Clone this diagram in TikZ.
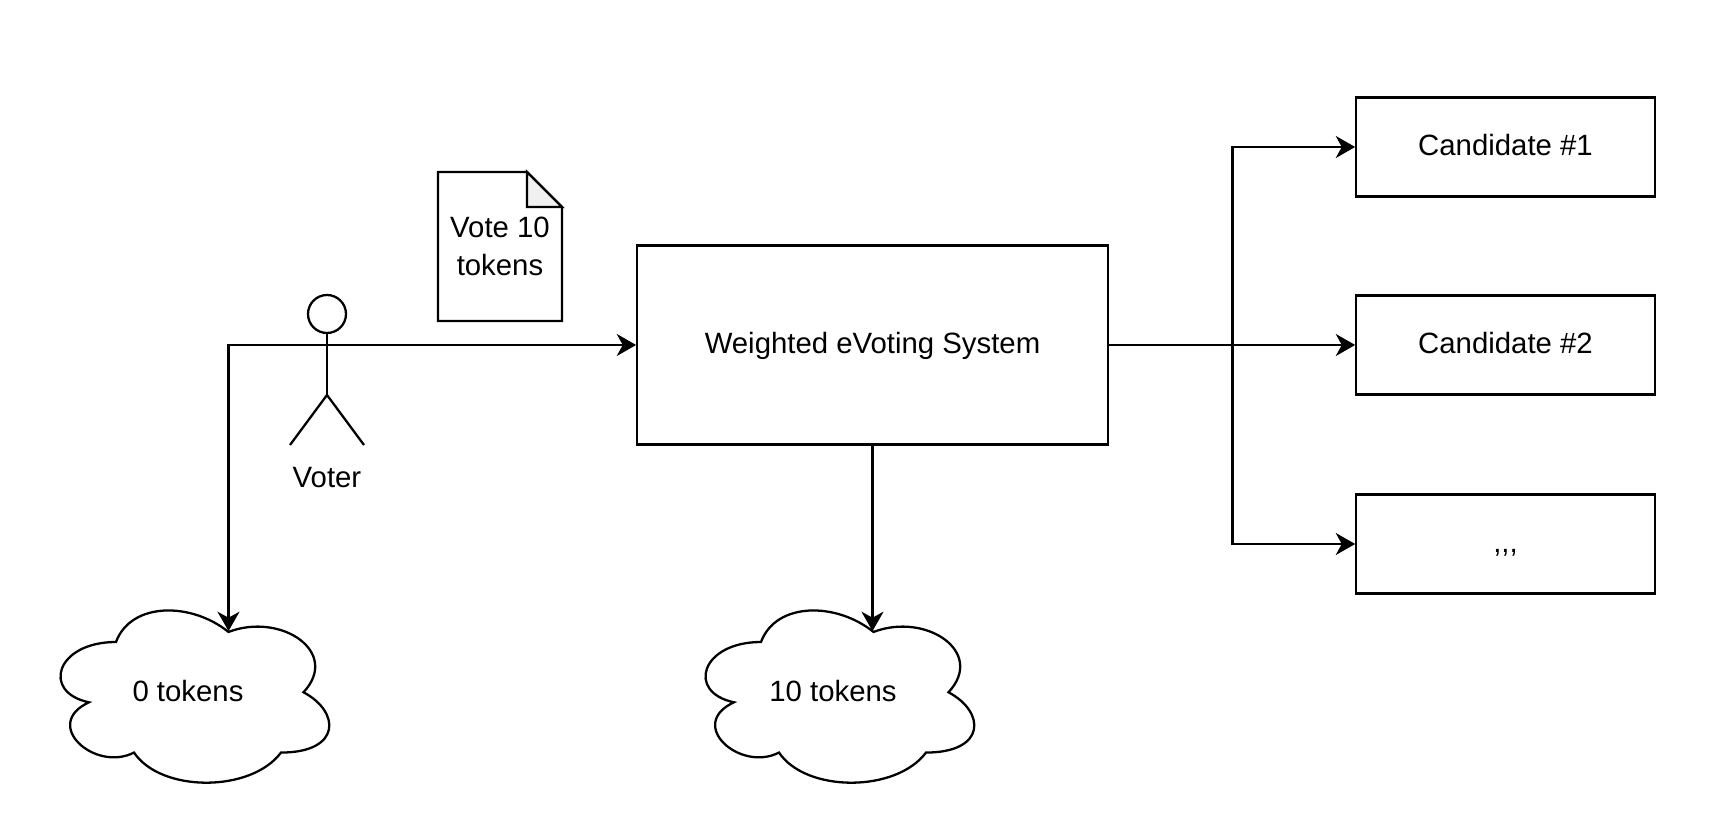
\documentclass[tikz,border=0pt]{standalone}
\usepackage{fontspec}
\setmainfont{Liberation Sans}
\usetikzlibrary{positioning, arrows.meta}
\tikzset{
    on grid,
    every node/.style={font=\fontsize{16.7}{21.3}\selectfont, align=center, inner sep=0pt, outer sep=0pt},
    every path/.style={line width=1.3pt},
    box/.style={draw, rectangle, text height=12pt, text depth=2pt},
    system/.style={box, minimum width=9.42cm, minimum height=3.98cm},
    candidate/.style={box, minimum width=5.98cm, minimum height=1.98cm},
    flow/.style={-{Stealth[length=11pt, width=12.5pt, inset=3.4pt]}, shorten >=0.5pt},
}
\newcommand{\tokencloud}[4]{
    \begin{scope}[shift={(#2,#3)}, x=6cm, y=-4.02cm]
        \draw (0.25,0.25) .. controls (0.05,0.25) and (0,0.5) .. (0.16,0.55)
            .. controls (0,0.66) and (0.18,0.9) .. (0.31,0.8)
            .. controls (0.4,1) and (0.7,1) .. (0.8,0.8)
            .. controls (1,0.8) and (1,0.6) .. (0.875,0.5)
            .. controls (1,0.3) and (0.8,0.1) .. (0.625,0.2)
            .. controls (0.5,0.05) and (0.3,0.05) .. (0.25,0.25) -- cycle;
        \coordinate (#1top) at (0.625,0.2);
        \node (#1) at (0.49,0.493) {#4};
    \end{scope}
}

\begin{document}
\begin{tikzpicture}
    \useasboundingbox (0,0) rectangle (34.72,-16.72);

        \node[system] (sys) at (17.45,-6.9) {Weighted eVoting System};
        \node[candidate, right=12.66cm of sys] (cand2) {Candidate \#2};
        \node[candidate, above=3.96cm of cand2] (cand1) {Candidate \#1};
        \node[candidate, below=3.98cm of cand2] (cand3) {,{},{},};
        \coordinate[right=2.49cm of sys.east] (split);

    % vote document
        \node[minimum width=2.48cm, minimum height=2.98cm] (vote) at (10,-4.93) {Vote 10\\tokens};
        \draw[fill=white] (vote.south west) -- (vote.north west) -- ([xshift=-0.7cm]vote.north east)
            -- ([yshift=-0.7cm]vote.north east) -- (vote.south east) -- cycle;
        \draw[fill=black!6] ([xshift=-0.7cm]vote.north east) -- ([yshift=-0.7cm]vote.north east)
            -- ([xshift=-0.7cm, yshift=-0.7cm]vote.north east) -- cycle;
        \node at (vote) {Vote 10\\tokens};

    % voter
        \node[draw, circle, minimum size=0.76cm] (head) at (6.54,-6.28) {};
        \coordinate[below=1.62cm of head] (hip);
        \coordinate (armL) at (5.8,-6.9);
        \coordinate (armR) at (7.28,-6.9);
        \coordinate (footL) at (5.8,-8.9);
        \coordinate (footR) at (7.28,-8.9);
        \node (voter) at (6.54,-9.56) {Voter};
        \draw (head.south) -- (hip);
        \draw (footL) -- (hip) -- (footR);
        \draw (armL) -- (armR);

    % clouds
        \tokencloud{cloudA}{0.82}{-11.835}{0 tokens}
        \tokencloud{cloudB}{13.72}{-11.835}{10 tokens}

        \draw[flow] (armR) -- (sys.west);
        \draw[flow] (armL) -| (cloudAtop);
        \draw[flow] (sys.south) -- (sys.south |- cloudBtop);
        \draw[flow] (sys.east) -- (cand2.west);
        \draw[flow] (split) |- (cand1.west);
        \draw[flow] (split) |- (cand3.west);
\end{tikzpicture}
\end{document}
